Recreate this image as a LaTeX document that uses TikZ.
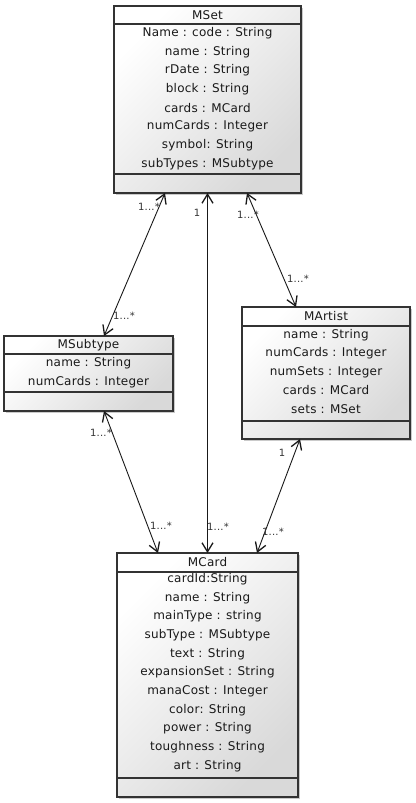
\documentclass[tikz,border=0pt]{standalone}
\usepackage{fontspec}
\setmainfont{DejaVu Sans}[LetterSpace=2]
\usetikzlibrary{arrows.meta,shadows}
\tikzset{
  umlbox/.style={draw=black!80, line width=1.2pt, top color=white, bottom color=black!15, shading angle=45,
    drop shadow={shadow xshift=2pt, shadow yshift=-2pt, opacity=0.35, fill=black!60},
    inner sep=0pt, outer sep=0pt},
  sepline/.style={draw=black!80, line width=1.2pt},
  attr/.style={font=\fontsize{12}{14}\selectfont, text=black!90, inner sep=0pt},
  mult/.style={font=\fontsize{10}{12}\selectfont, text=black!80, inner sep=0pt},
  assoc/.style={line width=0.9pt, draw=black!90,
    {Straight Barb[length=9pt,width=11pt,line width=1.3pt]}-{Straight Barb[length=9pt,width=11pt,line width=1.3pt]}}
}
\begin{document}
\begin{tikzpicture}[x=1pt,y=-1pt]
\useasboundingbox (0,0) rectangle (415,803);
% MSet
\node[umlbox, minimum width=187pt, minimum height=187pt] (mset) at (207.5,99.5) {};
\draw[sepline] (mset.west |- 0,24) -- (mset.east |- 0,24);
\draw[sepline] (mset.west |- 0,174) -- (mset.east |- 0,174);
\node[attr] (mset-t) at (207.5,15) {MSet};
\foreach \t [count=\i] in {Name : code : String, name : String, rDate : String, block : String, cards : MCard, numCards : Integer, symbol: String, subTypes : MSubtype}
  \node[attr] (mset-\i) at (207.5,{33+18.7*(\i-1)}) {\t};
% MSubtype
\node[umlbox, minimum width=169pt, minimum height=75pt] (msub) at (88.5,373.5) {};
\draw[sepline] (msub.west |- 0,354) -- (msub.east |- 0,354);
\draw[sepline] (msub.west |- 0,392) -- (msub.east |- 0,392);
\node[attr] (msub-t) at (88.5,345) {MSubtype};
\foreach \t [count=\i] in {name : String, numCards : Integer}
  \node[attr] (msub-\i) at (88.5,{363+18.7*(\i-1)}) {\t};
% MArtist
\node[umlbox, minimum width=168pt, minimum height=132pt] (mart) at (326,373) {};
\draw[sepline] (mart.west |- 0,326) -- (mart.east |- 0,326);
\draw[sepline] (mart.west |- 0,421) -- (mart.east |- 0,421);
\node[attr] (mart-t) at (326,316.5) {MArtist};
\foreach \t [count=\i] in {name : String, numCards : Integer, numSets : Integer, cards : MCard, sets : MSet}
  \node[attr] (mart-\i) at (326,{335+18.5*(\i-1)}) {\t};
% MCard
\node[umlbox, minimum width=181pt, minimum height=244pt] (mcard) at (207.5,675) {};
\draw[sepline] (mcard.west |- 0,572) -- (mcard.east |- 0,572);
\draw[sepline] (mcard.west |- 0,778) -- (mcard.east |- 0,778);
\node[attr] (mcard-t) at (207.5,562.5) {MCard};
\foreach \t [count=\i] in {cardId:String, name : String, mainType : string, subType : MSubtype, text : String, expansionSet : String, manaCost : Integer, color: String, power : String, toughness : String, art : String}
  \node[attr] (mcard-\i) at (207.5,{579+18.7*(\i-1)}) {\t};
% associations
\draw[assoc] ([xshift=-42.5pt]mset.south) -- ([xshift=15.5pt]msub.north);
\draw[assoc] (mset.south) -- (mcard.north);
\draw[assoc] ([xshift=39.5pt]mset.south) -- ([xshift=-30pt]mart.north);
\draw[assoc] ([xshift=15.5pt]msub.south) -- ([xshift=-49.5pt]mcard.north);
\draw[assoc] ([xshift=-26pt]mart.south) -- ([xshift=49.5pt]mcard.north);
% multiplicities
\node[mult] (m1a) at (149,207) {1...*};
\node[mult] (m1b) at (124,316) {1...*};
\node[mult] (m2a) at (197,213) {1};
\node[mult] (m2b) at (218,527) {1...*};
\node[mult] (m3a) at (248,215) {1...*};
\node[mult] (m3b) at (298,279) {1...*};
\node[mult] (m4a) at (101,433) {1...*};
\node[mult] (m4b) at (161,526) {1...*};
\node[mult] (m5a) at (282,453) {1};
\node[mult] (m5b) at (273,532) {1...*};
\end{tikzpicture}
\end{document}
